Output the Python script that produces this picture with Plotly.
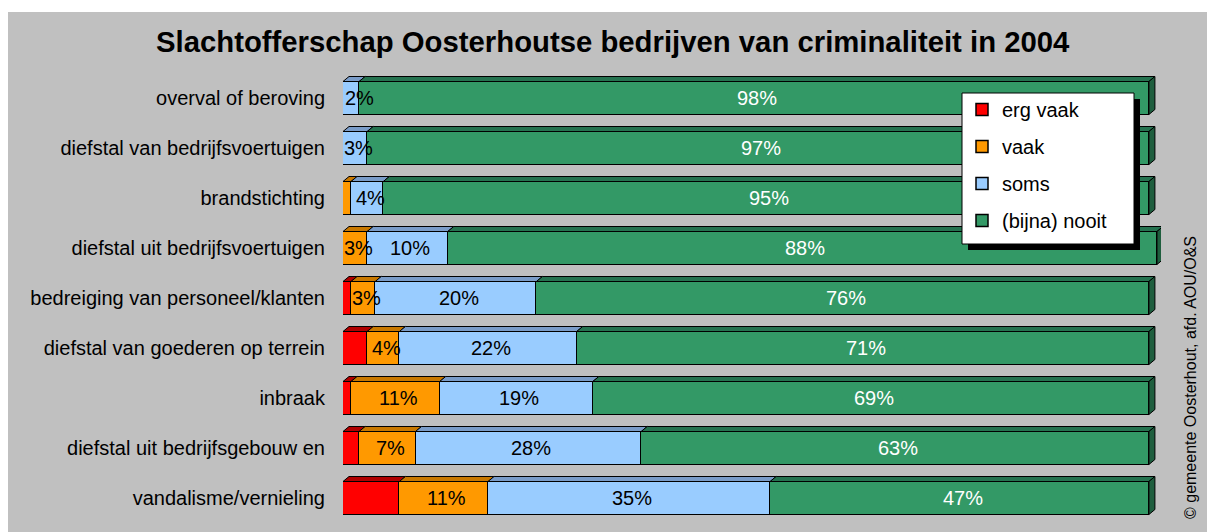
import plotly.graph_objects as go

categories = [
    "overval of beroving",
    "diefstal van bedrijfsvoertuigen",
    "brandstichting",
    "diefstal uit bedrijfsvoertuigen",
    "bedreiging van personeel/klanten",
    "diefstal van goederen op terrein",
    "inbraak",
    "diefstal uit bedrijfsgebouw en",
    "vandalisme/vernieling",
]
erg_vaak = [0, 0, 0, 0, 1, 3, 1, 2, 7]
vaak = [0, 0, 1, 3, 3, 4, 11, 7, 11]
soms = [2, 3, 4, 10, 20, 22, 19, 28, 35]
nooit = [98, 97, 95, 88, 76, 71, 69, 63, 47]

series_names = ["erg vaak", "vaak", "soms", "(bijna) nooit"]
series_values = [erg_vaak, vaak, soms, nooit]
colors = ["#FF0000", "#FF9900", "#99CCFF", "#339966"]
top_colors = ["#B00000", "#C87800", "#7A9CC8", "#267350"]
side_color = "#1F5E3E"
text_colors = ["black", "black", "black", "white"]
show_labels = [False, True, True, True]

FONT = "Liberation Sans, Arial, sans-serif"
LABEL_SIZE = 20
OFF = 8                      # page body margin
W, H = 1215 - OFF, 532 - OFF
ML, MT, MB = 343 - OFF, 73 - OFF, 9
XMAX = 101.5
plot_w = round(806 * XMAX / 100)
MR = W - ML - plot_w
plot_h = H - MT - MB
PX_PER_UNIT = plot_w / XMAX
BARW = 0.66
DX = 6 / PX_PER_UNIT               # depth in x data units (6 px)
DY = 5 * len(categories) / plot_h  # depth in y data units (5 px)


def fx(sx):
    return (sx - OFF - ML) / plot_w


def fy(sy):
    return (MT + plot_h - (sy - OFF)) / plot_h


def text_w(s):
    widths = {"%": 0.889}
    return sum(widths.get(c, 0.556) for c in s) * LABEL_SIZE


ypos = list(range(len(categories)))

fig = go.Figure()
for k, (name, vals) in enumerate(zip(series_names, series_values)):
    fig.add_trace(go.Bar(
        y=ypos, x=vals, orientation="h", name=name,
        legendgroup=name,
        width=BARW,
        marker=dict(color=colors[k], line=dict(color="black", width=1.5)),
        hoverinfo="skip",
    ))

shapes = []
annotations = []
# grey chart background
shapes.append(dict(type="rect", xref="paper", yref="paper",
                   x0=fx(8), x1=fx(1213), y0=fy(545), y1=fy(12),
                   fillcolor="#C0C0C0", line=dict(width=0), layer="below"))

# 3D top faces, end faces and value labels
for r in ypos:
    start = 0
    top = r - BARW / 2
    for k, vals in enumerate(series_values):
        v = vals[r]
        if v <= 0:
            continue
        x0, x1 = start, start + v
        path = (f"M {x0},{top} L {x0 + DX},{top - DY} L {x1 + DX},{top - DY} "
                f"L {x1},{top} Z")
        shapes.append(dict(type="path", xref="x", yref="y", path=path,
                           fillcolor=top_colors[k],
                           line=dict(color="black", width=1), layer="above"))
        if show_labels[k] and v >= 2:
            label = f"{v}%"
            cx = x0 + v / 2 + DX / 2
            if cx * PX_PER_UNIT < text_w(label) / 2:
                ax, anchor = 0, "left"
            else:
                ax, anchor = cx, "center"
            annotations.append(dict(
                text=label, x=ax, y=r, xref="x", yref="y",
                xanchor=anchor, yanchor="middle", showarrow=False,
                font=dict(family=FONT, size=LABEL_SIZE, color=text_colors[k])))
        start = x1
    bot = r + BARW / 2
    path = (f"M {start},{top} L {start + DX},{top - DY} L {start + DX},{bot - DY} "
            f"L {start},{bot} Z")
    shapes.append(dict(type="path", xref="x", yref="y", path=path,
                       fillcolor=side_color, line=dict(color="black", width=1),
                       layer="above"))

# legend shadow and box
shapes.append(dict(type="rect", xref="paper", yref="paper",
                   x0=fx(968), x1=fx(1140), y0=fy(250), y1=fy(99),
                   fillcolor="black", line=dict(width=0), layer="above"))
shapes.append(dict(type="rect", xref="paper", yref="paper",
                   x0=fx(962), x1=fx(1134), y0=fy(244), y1=fy(93),
                   fillcolor="white", line=dict(color="black", width=1),
                   layer="above"))

annotations.append(dict(
    text="<b>Slachtofferschap Oosterhoutse bedrijven van criminaliteit in 2004</b>",
    xref="paper", yref="paper", x=fx(613), y=fy(42),
    xanchor="center", yanchor="middle", showarrow=False,
    font=dict(family=FONT, size=29.3, color="black")))
annotations.append(dict(
    text="© gemeente Oosterhout, afd. AOU/O&S",
    xref="paper", yref="paper", x=fx(1190), y=fy(378),
    xanchor="center", yanchor="middle", showarrow=False, textangle=-90,
    font=dict(family=FONT, size=16, color="black")))

fig.update_layout(
    width=W, height=H,
    margin=dict(l=ML, r=MR, t=MT, b=MB),
    paper_bgcolor="white", plot_bgcolor="rgba(0,0,0,0)",
    barmode="stack", bargap=0,
    font=dict(family=FONT, size=20, color="black"),
    shapes=shapes,
    annotations=annotations,
    showlegend=True,
    legend=dict(
        x=fx(962), y=fy(90),
        xanchor="left", yanchor="top",
        bgcolor="rgba(0,0,0,0)", borderwidth=0,
        font=dict(family=FONT, size=20, color="black"),
        traceorder="grouped", tracegroupgap=8,
    ),
    xaxis=dict(range=[0, XMAX], visible=False, fixedrange=True),
    yaxis=dict(range=[len(categories) - 0.5, -0.5], tickvals=ypos,
               ticktext=categories, showgrid=False, zeroline=False,
               showline=False, ticks="", ticklabelstandoff=17,
               tickfont=dict(family=FONT, size=20, color="black")),
)

fig.write_html("out.html")
